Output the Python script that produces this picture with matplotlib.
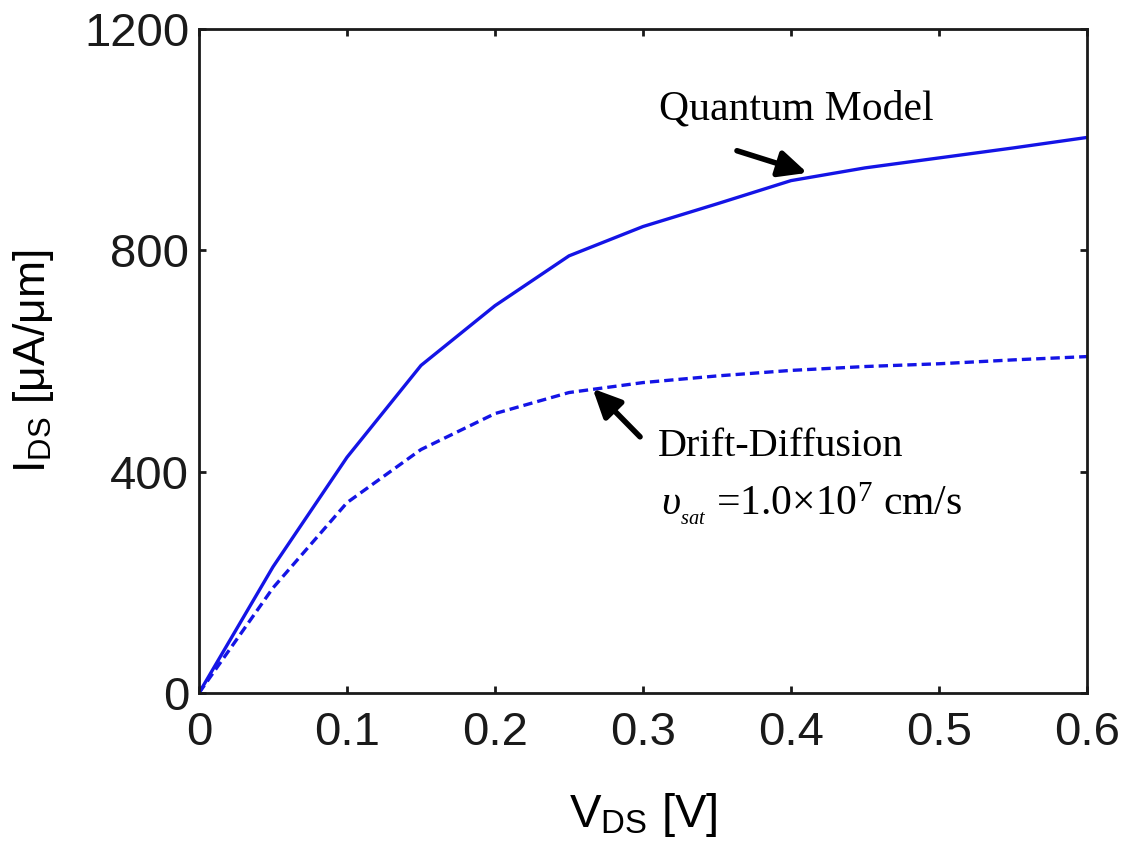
import matplotlib
matplotlib.use("Agg")
import matplotlib.pyplot as plt

vds = [0.0, 0.05, 0.10, 0.15, 0.20, 0.25, 0.30, 0.35, 0.40, 0.45, 0.50, 0.55, 0.60]
quantum = [0, 228, 426, 592, 700, 790, 843, 884, 926, 949, 967, 985, 1004]
drift = [0, 190, 344, 440, 505, 543, 561, 573, 583, 590, 595, 602, 608]

xticks = [0, 0.1, 0.2, 0.3, 0.4, 0.5, 0.6]
xticklabels = ["0", "0.1", "0.2", "0.3", "0.4", "0.5", "0.6"]
yticks = [0, 400, 800, 1200]
yticklabels = ["0", "400", "800", "1200"]

plt.rcParams["mathtext.fontset"] = "custom"
plt.rcParams["mathtext.rm"] = "Liberation Serif"
plt.rcParams["mathtext.it"] = "Liberation Serif:italic"
plt.rcParams["mathtext.sf"] = "Liberation Sans"

fig = plt.figure(figsize=(11.28, 8.61), dpi=100)
ax = fig.add_axes([199/1128, 1-693/861, (1087-199)/1128, (693-29)/861])

blue = "#1414e6"
ax.plot(vds, quantum, color=blue, lw=2.4, solid_capstyle="butt")
ax.plot(vds, drift, color=blue, lw=2.4, dashes=(2.8, 1.5))

ax.set_xlim(0, 0.6)
ax.set_ylim(0, 1200)
ax.set_xticks(xticks)
ax.set_xticklabels(xticklabels)
ax.set_yticks(yticks)
ax.set_yticklabels(yticklabels)

for s in ax.spines.values():
    s.set_linewidth(2.0)
    s.set_color("#1a1a1a")
ax.tick_params(direction="in", length=5, width=2, top=True, right=True,
               labelsize=34, colors="#1a1a1a")
ax.tick_params(axis="x", pad=13)
ax.tick_params(axis="y", pad=7)
for lab in ax.get_xticklabels() + ax.get_yticklabels():
    lab.set_fontfamily("Liberation Sans")

ax.set_xlabel(r"V$_{\mathsf{DS}}$ [V]", fontsize=34, family="Liberation Sans", labelpad=26)
ax.set_ylabel(r"I$_{\mathsf{DS}}$ [μA/μm]", fontsize=32, family="Liberation Sans", labelpad=20)

arrow_kw = dict(arrowstyle="-|>,head_length=1.7,head_width=0.8",
                lw=4, color="black", shrinkA=0, shrinkB=0)

ax.text(0.311, 1036, "Quantum Model", fontsize=30, family="Liberation Serif",
        ha="left", va="baseline")
ax.annotate("", xy=(0.411, 940), xytext=(0.3635, 980), arrowprops=arrow_kw)

ax.text(0.310, 428, "Drift-Diffusion", fontsize=29, family="Liberation Serif",
        ha="left", va="baseline")
ax.text(0.312, 321, r"$\upsilon_{_{sat}}$ =1.0×10$^{7}$ cm/s", fontsize=30,
        family="Liberation Serif", ha="left", va="baseline")
ax.annotate("", xy=(0.266, 550), xytext=(0.298, 463), arrowprops=arrow_kw)

fig.savefig("out.png", dpi=100)
